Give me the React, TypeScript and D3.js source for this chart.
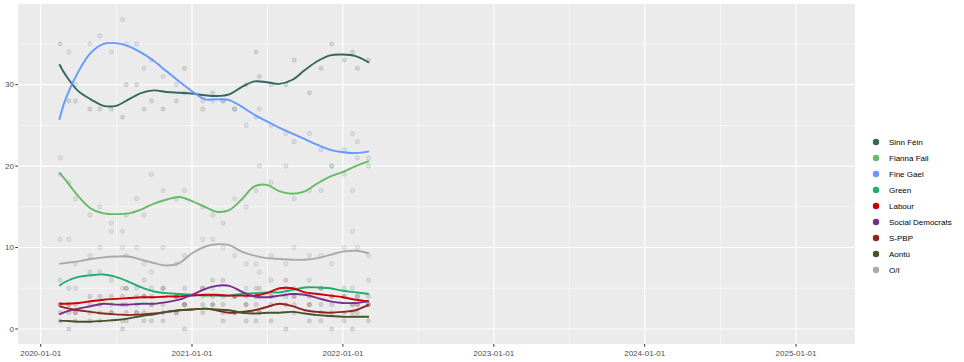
import React, { useRef, useEffect } from "react";
import * as d3 from "d3";

// parties, colours
const parties = ["Sinn Féin", "Fianna Fail", "Fine Gael", "Green", "Labour", "Social Democrats", "S-PBP", "Aontú", "O/I"];
const colors = ["#326760", "#66BB66", "#6699FF", "#22AC6F", "#CC0000", "#752F8B", "#8E2420", "#44532A", "#AAAAAA"];

// poll dates
const pollDates = [
  "2020-02-17", "2020-03-09", "2020-03-25", "2020-04-29", "2020-05-23", "2020-06-20", "2020-07-17", "2020-07-26",
  "2020-08-20", "2020-09-07", "2020-09-25", "2020-10-23", "2020-11-24", "2020-12-14", "2021-01-27", "2021-02-20",
  "2021-03-17", "2021-04-14", "2021-05-12", "2021-06-05", "2021-06-13", "2021-07-11", "2021-08-16", "2021-09-05",
  "2021-10-12", "2021-11-09", "2021-12-05", "2022-01-04", "2022-01-24", "2022-02-05", "2022-03-04",
];

// poll values per party
const sfPolls = [35, 28, 28, 27, 27, 27, 26, 30, 30, 27, 28, 27, 28, 32, 27, 29, 28, 27, 30, 34, 31, 30, 30, 33, 29, 32, 35, 33, 34, 32, 33];
const ffPolls = [19, 18, 16, 14, 15, 13, 12, 14, 16, 14, 19, 17, 16, 17, 15, 14, 13, 16, 15, 17, 20, 18, 20, 16, 17, 17, 20, 19, 17, 21, 20];
const fgPolls = [21, 34, 30, 35, 36, 34, 38, 35, 35, 32, 33, 31, 30, 29, 28, 28, 28, 27, 25, 26, 27, 25, 24, 23, 24, 22, 20, 22, 24, 23, 21];
const greenPolls = [6, 5, 5, 7, 7, 6, 5, 5, 5, 6, 5, 5, 4, 3, 4, 5, 4, 4, 5, 4, 4, 6, 5, 5, 6, 5, 4, 5, 5, 4, 6];
const labPolls = [3, 3, 3, 4, 4, 4, 4, 5, 4, 4, 4, 5, 4, 3, 5, 4, 3, 4, 3, 4, 5, 4, 6, 4, 3, 5, 4, 4, 3, 4, 3];
const sdPolls = [2, 2, 2, 3, 3, 3, 3, 3, 3, 4, 3, 3, 4, 5, 5, 6, 6, 4, 4, 5, 4, 4, 4, 4, 4, 3, 3, 4, 3, 3, 4];
const spbpPolls = [3, 3, 2, 2, 2, 2, 1, 2, 2, 2, 3, 2, 2, 3, 3, 3, 2, 2, 3, 3, 2, 3, 3, 3, 3, 2, 2, 2, 2, 3, 3];
const aontuPolls = [1, 0, 1, 1, 1, 2, 0, 1, 2, 1, 1, 1, 2, 0, 2, 3, 1, 2, 1, 1, 2, 1, 0, 2, 1, 1, 0, 1, 0, 2, 1];
const oiPolls = [11, 11, 8, 9, 10, 12, 10, 9, 10, 8, 7, 10, 8, 9, 11, 11, 10, 9, 8, 8, 7, 9, 8, 10, 9, 9, 8, 10, 12, 10, 9];

// smoothed trend, sampled monthly
const trendDates = [
  "2020-02-15", "2020-03-01", "2020-04-01", "2020-05-01", "2020-06-01", "2020-07-01", "2020-08-01", "2020-09-01",
  "2020-10-01", "2020-11-01", "2020-12-01", "2021-01-01", "2021-02-01", "2021-03-01", "2021-04-01", "2021-05-01",
  "2021-06-01", "2021-07-01", "2021-08-01", "2021-09-01", "2021-10-01", "2021-11-01", "2021-12-01", "2022-01-01",
  "2022-02-01", "2022-03-05",
];
const sfTrend = [32.5, 31.2, 29.2, 28.2, 27.4, 27.4, 28.2, 29.0, 29.3, 29.1, 29.0, 28.9, 28.7, 28.6, 28.8, 29.7, 30.4, 30.3, 30.1, 30.6, 31.8, 32.9, 33.6, 33.7, 33.5, 32.7];
const ffTrend = [19.2, 18.3, 16.3, 14.8, 14.2, 14.1, 14.2, 14.7, 15.4, 15.9, 16.2, 15.7, 15.0, 14.4, 14.6, 15.9, 17.5, 17.7, 16.9, 16.6, 16.9, 17.9, 18.7, 19.3, 20.0, 20.6];
const fgTrend = [25.7, 28.2, 31.6, 33.9, 35.0, 35.1, 34.7, 33.9, 32.9, 31.6, 30.4, 29.2, 28.2, 28.2, 28.1, 27.3, 26.3, 25.5, 24.7, 24.0, 23.3, 22.6, 22.0, 21.7, 21.6, 21.8];
const greenTrend = [5.3, 5.8, 6.4, 6.6, 6.7, 6.4, 5.8, 5.1, 4.6, 4.4, 4.3, 4.2, 4.1, 4.1, 4.1, 4.3, 4.4, 4.5, 4.5, 4.8, 5.1, 5.1, 5.0, 4.7, 4.5, 4.3];
const labTrend = [3.1, 3.1, 3.2, 3.4, 3.6, 3.7, 3.8, 3.9, 3.9, 4.0, 4.0, 4.1, 4.2, 4.2, 4.1, 4.1, 4.1, 4.4, 5.0, 5.0, 4.5, 4.3, 4.1, 3.9, 3.6, 3.4];
const sdTrend = [1.8, 2.1, 2.5, 2.8, 3.1, 3.0, 3.0, 3.1, 3.1, 3.3, 3.6, 4.2, 4.9, 5.3, 5.3, 4.6, 4.0, 3.9, 4.1, 4.3, 4.2, 3.8, 3.4, 3.2, 3.2, 3.4];
const spbpTrend = [2.8, 2.6, 2.3, 2.1, 1.9, 1.8, 1.7, 1.8, 1.9, 2.1, 2.3, 2.4, 2.5, 2.3, 2.0, 2.1, 2.3, 2.7, 3.1, 2.8, 2.3, 2.1, 2.0, 2.1, 2.3, 3.0];
const aontuTrend = [1.0, 1.0, 0.9, 0.9, 1.0, 1.1, 1.3, 1.6, 1.8, 2.1, 2.3, 2.4, 2.5, 2.4, 2.3, 2.0, 1.9, 2.0, 2.0, 2.1, 1.9, 1.7, 1.6, 1.5, 1.5, 1.5];
const oiTrend = [8.0, 8.1, 8.3, 8.6, 8.8, 8.9, 8.9, 8.5, 8.1, 7.8, 8.1, 9.3, 10.1, 10.4, 10.3, 9.5, 9.0, 8.7, 8.6, 8.5, 8.5, 8.7, 9.1, 9.5, 9.6, 9.3];

const polls = [sfPolls, ffPolls, fgPolls, greenPolls, labPolls, sdPolls, spbpPolls, aontuPolls, oiPolls];
const trends = [sfTrend, ffTrend, fgTrend, greenTrend, labTrend, sdTrend, spbpTrend, aontuTrend, oiTrend];

const yTicks = [0, 10, 20, 30];
const yMinor = [5, 15, 25, 35];
const xTicks = ["2020-01-01", "2021-01-01", "2022-01-01", "2023-01-01", "2024-01-01", "2025-01-01"];

function App() {
  const svgRef = useRef<SVGSVGElement>(null);

  useEffect(() => {
    document.body.style.margin = "0";
    const W = 964, H = 362;
    const panel = { left: 18, right: 855, top: 4, bottom: 344 };
    const parse = d3.utcParse("%Y-%m-%d");

    const svg = d3.select(svgRef.current);
    svg.selectAll("*").remove();
    svg.append("rect").attr("width", W).attr("height", H).attr("fill", "#ffffff");

    const x = d3.scaleUtc()
      .domain([parse("2020-01-01")!, parse("2025-01-01")!])
      .range([40.7, 796]);
    const y = d3.scaleLinear().domain([-1.84, 39.9]).range([panel.bottom, panel.top]);

    svg.append("rect")
      .attr("x", panel.left).attr("y", panel.top)
      .attr("width", panel.right - panel.left).attr("height", panel.bottom - panel.top)
      .attr("fill", "#EBEBEB");

    const grid = svg.append("g");
    // minor grid
    yMinor.forEach((v) => {
      grid.append("line").attr("x1", panel.left).attr("x2", panel.right)
        .attr("y1", y(v)).attr("y2", y(v)).attr("stroke", "#fff").attr("stroke-width", 0.55);
    });
    const xDates = xTicks.map((d) => parse(d)!);
    for (let i = 0; i < xDates.length - 1; i++) {
      const mx = (x(xDates[i]) + x(xDates[i + 1])) / 2;
      grid.append("line").attr("x1", mx).attr("x2", mx)
        .attr("y1", panel.top).attr("y2", panel.bottom).attr("stroke", "#fff").attr("stroke-width", 0.55);
    }
    // major grid
    yTicks.forEach((v) => {
      grid.append("line").attr("x1", panel.left).attr("x2", panel.right)
        .attr("y1", y(v)).attr("y2", y(v)).attr("stroke", "#fff").attr("stroke-width", 1.1);
    });
    xDates.forEach((d) => {
      grid.append("line").attr("x1", x(d)).attr("x2", x(d))
        .attr("y1", panel.top).attr("y2", panel.bottom).attr("stroke", "#fff").attr("stroke-width", 1.1);
    });

    // points
    const pd = pollDates.map((d) => parse(d)!);
    polls.forEach((vals, i) => {
      svg.append("g").selectAll("circle")
        .data(vals)
        .enter()
        .append("circle")
        .attr("cx", (d, j) => x(pd[j]))
        .attr("cy", (d) => y(d))
        .attr("r", 2.1)
        .attr("fill", colors[i])
        .attr("fill-opacity", 0.16)
        .attr("stroke", "#333")
        .attr("stroke-opacity", 0.18)
        .attr("stroke-width", 0.7);
    });

    // trend lines
    const td = trendDates.map((d) => parse(d)!);
    const line = d3.line<number>()
      .x((d, j) => x(td[j]))
      .y((d) => y(d))
      .curve(d3.curveCatmullRom.alpha(0.5));
    trends.forEach((vals, i) => {
      svg.append("path")
        .attr("d", line(vals))
        .attr("fill", "none")
        .attr("stroke", colors[i])
        .attr("stroke-width", 1.9);
    });

    // axes
    const axisCol = "#4D4D4D";
    yTicks.forEach((v) => {
      svg.append("line").attr("x1", panel.left - 2.7).attr("x2", panel.left)
        .attr("y1", y(v)).attr("y2", y(v)).attr("stroke", "#333").attr("stroke-width", 1);
      svg.append("text").attr("x", panel.left - 4).attr("y", y(v))
        .attr("dy", "0.35em").attr("text-anchor", "end")
        .attr("font-family", "Liberation Sans, Arial, sans-serif").attr("font-size", 8)
        .attr("fill", axisCol).text(v);
    });
    xDates.forEach((d, i) => {
      svg.append("line").attr("x1", x(d)).attr("x2", x(d))
        .attr("y1", panel.bottom).attr("y2", panel.bottom + 2.7).attr("stroke", "#333").attr("stroke-width", 1);
      svg.append("text").attr("x", x(d)).attr("y", panel.bottom + 12)
        .attr("text-anchor", "middle")
        .attr("font-family", "Liberation Sans, Arial, sans-serif").attr("font-size", 8)
        .attr("fill", axisCol).text(xTicks[i]);
    });

    // legend
    const legend = svg.append("g");
    parties.forEach((p, i) => {
      const ly = 142 + i * 16;
      legend.append("circle").attr("cx", 876).attr("cy", ly).attr("r", 3.2).attr("fill", colors[i]);
      legend.append("text").attr("x", 889).attr("y", ly).attr("dy", "0.35em")
        .attr("font-family", "Liberation Sans, Arial, sans-serif").attr("font-size", 8)
        .attr("fill", "#000").text(p);
    });
  }, []);

  return <svg ref={svgRef} width={964} height={362} style={{ display: "block" }}></svg>;
}

export default App;
